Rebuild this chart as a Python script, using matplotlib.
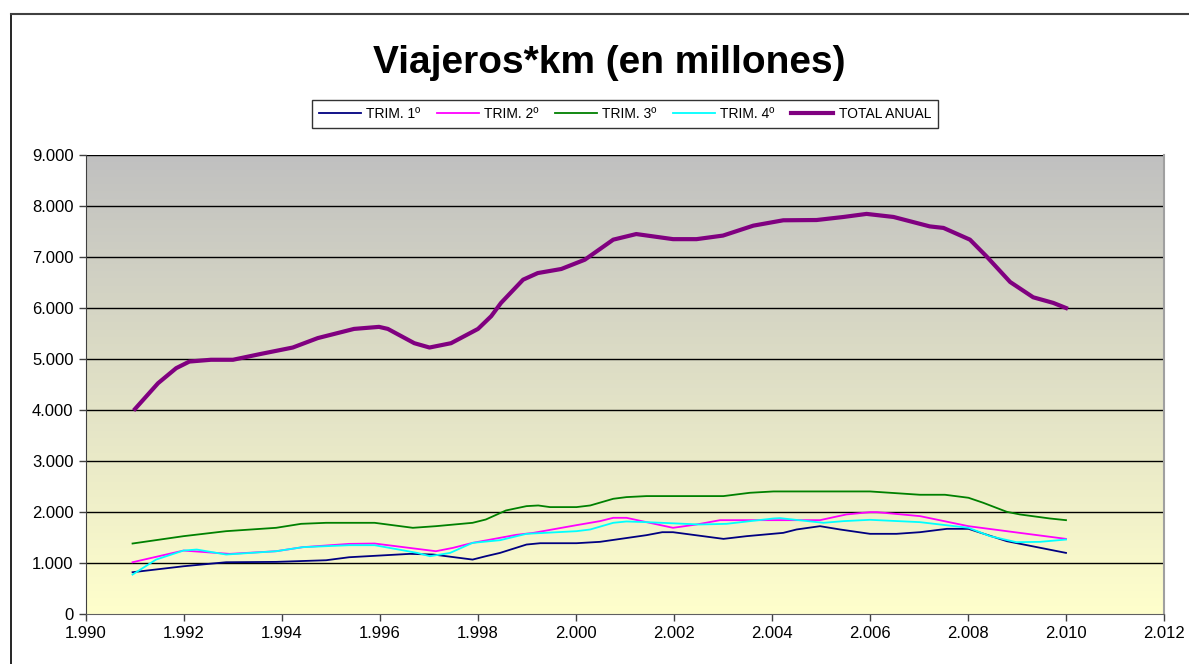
import numpy as np
import matplotlib
matplotlib.use("Agg")
import matplotlib.pyplot as plt
from matplotlib.lines import Line2D
from matplotlib.colors import LinearSegmentedColormap

plt.rcParams['font.family'] = ['Liberation Sans', 'DejaVu Sans']

# ---- data ----
total_x = [1991.0, 1991.47, 1991.84, 1992.11, 1992.55, 1993.0, 1993.57, 1994.22, 1994.73,
           1995.47, 1995.98, 1996.16, 1996.70, 1997.01, 1997.45, 1998.0, 1998.27, 1998.47,
           1998.92, 1999.22, 1999.70, 2000.18, 2000.76, 2001.23, 2001.98, 2002.46, 2003.0,
           2003.62, 2004.23, 2004.91, 2005.46, 2005.93, 2006.48, 2007.22, 2007.50, 2008.04,
           2008.38, 2008.86, 2009.33, 2009.74, 2010.0]
total_y = [4020, 4525, 4820, 4950, 4985, 4985, 5100, 5225, 5410,
           5590, 5630, 5590, 5310, 5225, 5310, 5590, 5840, 6100,
           6555, 6685, 6765, 6947, 7340, 7450, 7350, 7350, 7420,
           7615, 7720, 7725, 7785, 7845, 7785, 7600, 7570, 7340,
           7010, 6510, 6210, 6100, 6000]

t3_x = [1990.95, 1991.99, 1992.86, 1993.88, 1994.39, 1994.90, 1995.89, 1996.67, 1997.14,
        1997.89, 1998.16, 1998.57, 1998.99, 1999.23, 1999.47, 2000.01, 2000.29, 2000.76,
        2001.03, 2001.44, 2003.01, 2003.55, 2004.03, 2006.0, 2007.02, 2007.53, 2008.01,
        2008.31, 2008.79, 2009.06, 2009.67, 2010.0]
t3_y = [1382, 1526, 1624, 1690, 1768, 1788, 1788, 1690, 1722,
        1788, 1853, 2030, 2115, 2128, 2096, 2096, 2128, 2259,
        2292, 2312, 2312, 2377, 2403, 2403, 2338, 2338, 2279,
        2181, 2004, 1952, 1873, 1840]

t2_x = [1990.95, 1991.99, 1992.93, 1993.88, 1994.42, 1995.37, 1995.89, 1997.14, 1997.49,
        1997.89, 1998.78, 1999.13, 2000.01, 2000.49, 2000.76, 2001.03, 2001.44, 2001.98,
        2002.46, 2002.94, 2003.76, 2004.98, 2005.26, 2005.52, 2006.0, 2006.14, 2007.02,
        2008.01, 2008.79, 2010.0]
t2_y = [1015, 1244, 1179, 1231, 1310, 1375, 1382, 1231, 1297,
        1395, 1552, 1591, 1742, 1821, 1886, 1886, 1801, 1690,
        1755, 1840, 1840, 1840, 1899, 1952, 1997, 1997, 1919,
        1722, 1624, 1473]

t4_x = [1990.95, 1991.43, 1991.99, 1992.26, 1992.86, 1993.88, 1994.42, 1995.37, 1995.89,
        1996.76, 1997.02, 1997.43, 1997.89, 1998.45, 1998.99, 2000.01, 2000.29, 2000.76,
        2001.03, 2001.44, 2002.53, 2003.07, 2004.03, 2004.16, 2005.05, 2005.46, 2006.0,
        2007.02, 2008.01, 2008.45, 2008.99, 2009.47, 2010.0]
t4_y = [773, 1067, 1244, 1264, 1166, 1231, 1310, 1349, 1349,
        1198, 1133, 1198, 1395, 1447, 1572, 1624, 1657, 1788,
        1814, 1801, 1755, 1768, 1873, 1880, 1788, 1821, 1847,
        1801, 1690, 1526, 1408, 1415, 1460]

t1_x = [1990.95, 1991.99, 1992.86, 1993.88, 1994.90, 1995.37, 1996.61, 1997.09, 1997.89,
        1998.16, 1998.45, 1998.99, 1999.27, 2000.01, 2000.49, 2001.44, 2001.76, 2001.98,
        2003.01, 2003.48, 2004.23, 2004.50, 2004.98, 2005.39, 2006.0, 2006.54, 2007.02,
        2007.57, 2008.01, 2008.79, 2010.0]
t1_y = [819, 936, 1015, 1022, 1054, 1113, 1179, 1166, 1067,
        1133, 1198, 1362, 1388, 1388, 1415, 1546, 1604, 1604,
        1473, 1526, 1591, 1657, 1722, 1657, 1572, 1572, 1604,
        1670, 1670, 1428, 1198]

series_labels = ['TRIM. 1º', 'TRIM. 2º', 'TRIM. 3º', 'TRIM. 4º', 'TOTAL ANUAL']
title = 'Viajeros*km (en millones)'
x_ticks = list(range(1990, 2013, 2))
y_ticks = list(range(0, 9001, 1000))


def fmt(v):
    return f"{v:,}".replace(",", ".")


fig = plt.figure(figsize=(11.89, 6.64), dpi=100)
fig.patch.set_facecolor('white')
ax = fig.add_axes([86 / 1189, 50 / 664, 1078 / 1189, 459 / 664])

# gradient background
cmap = LinearSegmentedColormap.from_list('bg', ['#ffffcc', '#c0c0c0'])
grad = np.linspace(0, 1, 256).reshape(-1, 1)
ax.imshow(grad, aspect='auto', cmap=cmap, origin='lower',
          extent=[0, 1, 0, 1], transform=ax.transAxes, zorder=0)

for v in y_ticks[1:]:
    ax.axhline(v, color='black', lw=1.0, zorder=1)

ax.plot(t1_x, t1_y, color='#000080', lw=1.3, label=series_labels[0], zorder=3)
ax.plot(t2_x, t2_y, color='#ff00ff', lw=1.3, label=series_labels[1], zorder=3)
ax.plot(t3_x, t3_y, color='#008000', lw=1.3, label=series_labels[2], zorder=3)
ax.plot(t4_x, t4_y, color='#00ffff', lw=1.3, label=series_labels[3], zorder=3)
ax.plot(total_x, total_y, color='#800080', lw=3.0, label=series_labels[4], zorder=4,
        solid_joinstyle='round')

ax.set_xlim(1990, 2012)
ax.set_ylim(0, 9000)
ax.set_xticks(x_ticks)
ax.set_xticklabels([fmt(v) for v in x_ticks], fontsize=12)
ax.set_yticks(y_ticks)
ax.set_yticklabels([fmt(v) for v in y_ticks], fontsize=12)
ax.tick_params(axis='both', direction='out', length=5, width=1, color='#404040')
ax.tick_params(axis='x', pad=4)
ax.tick_params(axis='y', pad=4)

ax.spines['top'].set_visible(False)
ax.spines['right'].set_color('#a0a0a0')
ax.spines['right'].set_linewidth(1.5)
ax.spines['left'].set_color('#404040')
ax.spines['bottom'].set_color('#606060')

fig.text(609 / 1189, 1 - 63 / 664, title, ha='center', va='center',
         fontsize=28, fontweight='bold')

leg = fig.legend(loc='center', bbox_to_anchor=(625 / 1189, 1 - 114 / 664), ncol=5,
                 fontsize=10, frameon=True, fancybox=False, handlelength=3.0,
                 columnspacing=1.2, handletextpad=0.4, borderpad=0.5)
leg.get_frame().set_edgecolor('black')
leg.get_frame().set_linewidth(1.0)

# figure frame (partially visible)
fig.add_artist(Line2D([11 / 1189, 11 / 1189], [0, 1 - 14 / 664], color='black', lw=1.2,
                      transform=fig.transFigure))
fig.add_artist(Line2D([11 / 1189, 1], [1 - 14 / 664, 1 - 14 / 664], color='#404040', lw=1.5,
                      transform=fig.transFigure))

fig.savefig('out.png', dpi=100)
